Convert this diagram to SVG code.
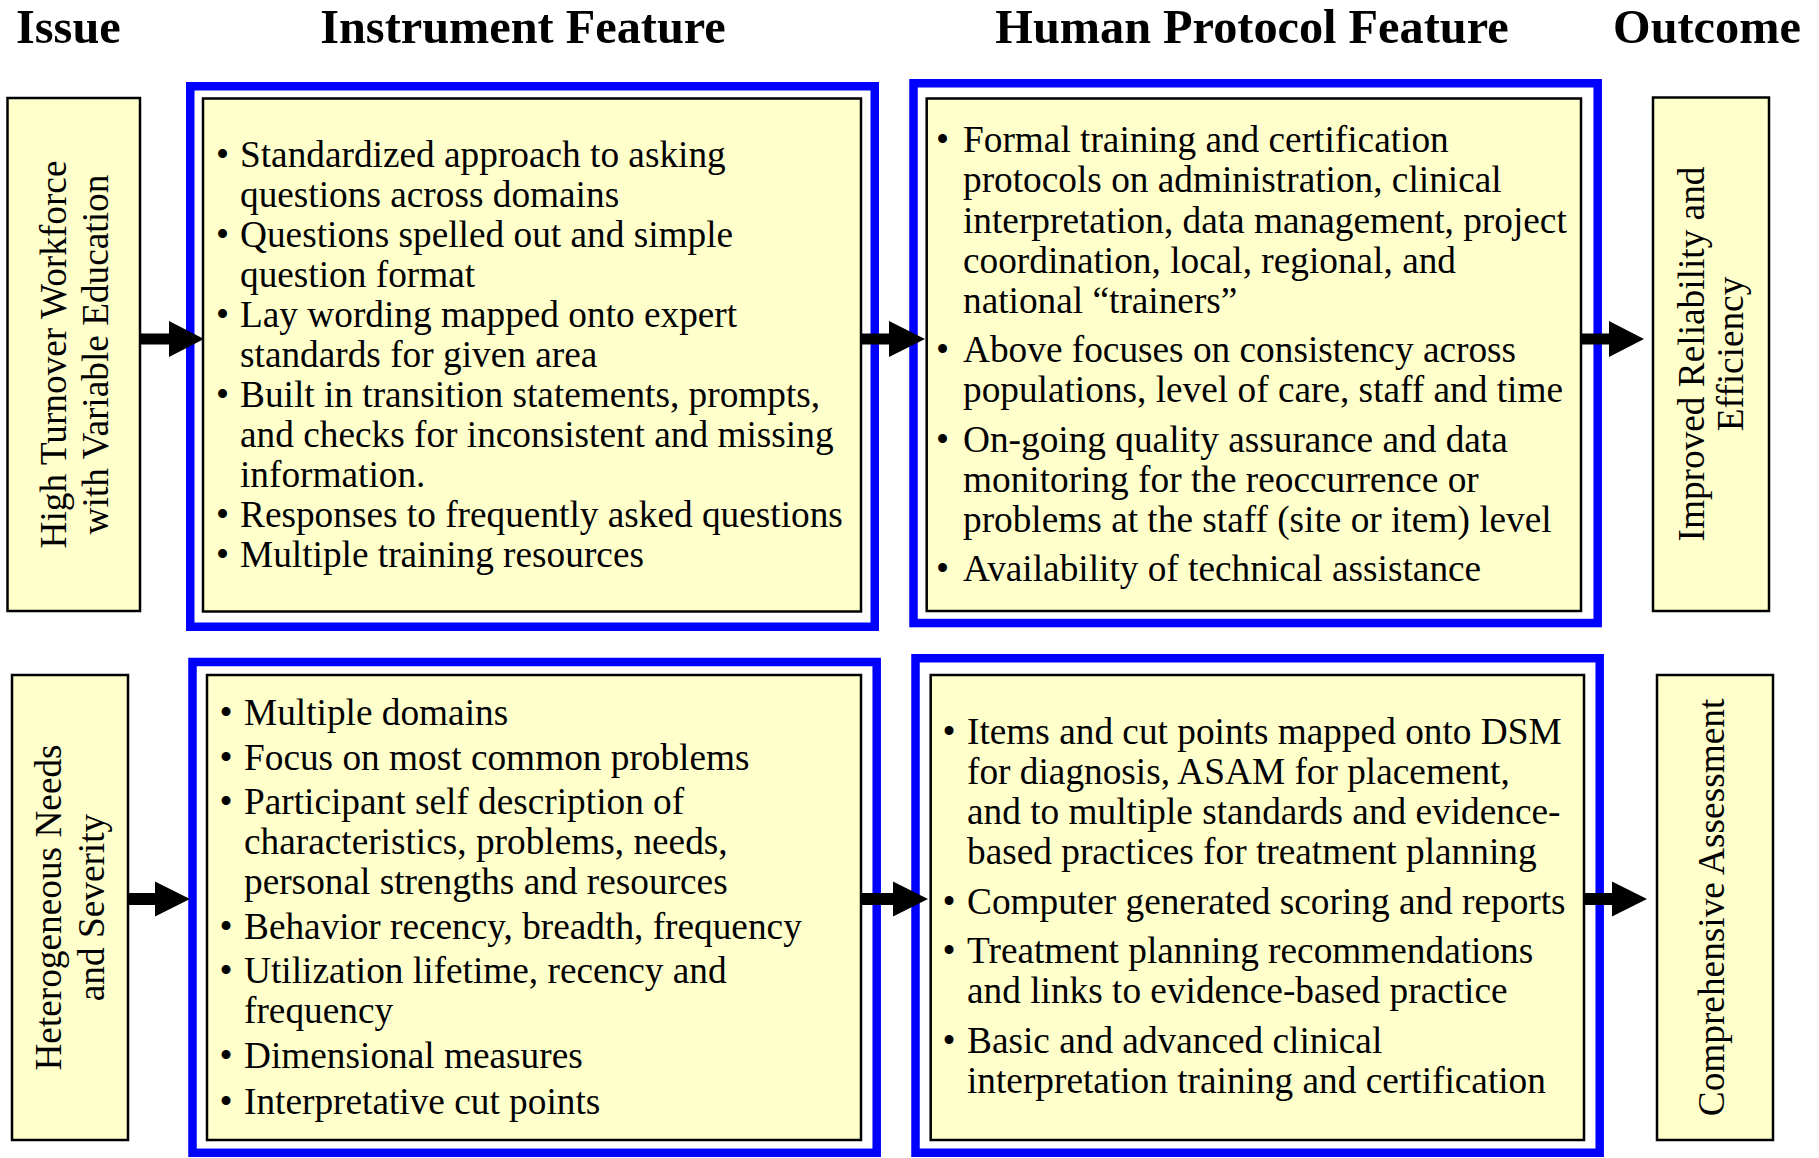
<svg xmlns="http://www.w3.org/2000/svg" width="1819" height="1158" viewBox="0 0 1819 1158">
<style>
.hdr{font-family:"Liberation Serif","Times New Roman",serif;font-weight:bold;font-size:48.3px;fill:#000}
.txt{font-family:"Liberation Serif","Times New Roman",serif;font-size:37.3px;fill:#000}
.box{fill:#FFFFCC;stroke:#000;stroke-width:2.5}
.frame{fill:#FFFFFF;stroke:#0000FF;stroke-width:8.5}
.arrow{fill:#000;stroke:none}
</style>
<rect x="0" y="0" width="1819" height="1158" fill="#FFFFFF"/>
<g id="headers">
<text class="hdr" x="16" y="43">Issue</text>
<text class="hdr" x="523" y="43" text-anchor="middle">Instrument Feature</text>
<text class="hdr" x="1252" y="43" text-anchor="middle">Human Protocol Feature</text>
<text class="hdr" x="1707" y="43" text-anchor="middle">Outcome</text>
</g>
<g id="issue-turnover">
<rect class="box" x="7.5" y="98" width="132.5" height="513"/>
<text class="txt" transform="translate(66,354.5) rotate(-90)" text-anchor="middle">High Turnover Workforce</text>
<text class="txt" transform="translate(108,354.5) rotate(-90)" text-anchor="middle">with Variable Education</text>
</g>
<g id="instrument-top">
<rect class="frame" x="190.25" y="86.25" width="684.5" height="540.5"/>
<rect class="box" x="203" y="98.5" width="658" height="513"/>
<text class="txt">
<tspan x="216" y="167">•</tspan><tspan x="240" y="167">Standardized approach to asking</tspan>
<tspan x="240" y="207">questions across domains</tspan>
<tspan x="216" y="247">•</tspan><tspan x="240" y="247">Questions spelled out and simple</tspan>
<tspan x="240" y="287">question format</tspan>
<tspan x="216" y="327">•</tspan><tspan x="240" y="327">Lay wording mapped onto expert</tspan>
<tspan x="240" y="367">standards for given area</tspan>
<tspan x="216" y="407">•</tspan><tspan x="240" y="407">Built in transition statements, prompts,</tspan>
<tspan x="240" y="447">and checks for inconsistent and missing</tspan>
<tspan x="240" y="487">information.</tspan>
<tspan x="216" y="527">•</tspan><tspan x="240" y="527">Responses to frequently asked questions</tspan>
<tspan x="216" y="567">•</tspan><tspan x="240" y="567">Multiple training resources</tspan>
</text>
</g>
<g id="human-top">
<rect class="frame" x="913.5" y="83.25" width="684.2" height="539.8"/>
<rect class="box" x="926.7" y="98.5" width="654.3" height="512.5"/>
<text class="txt">
<tspan x="936" y="152">•</tspan><tspan x="963" y="152">Formal training and certification</tspan>
<tspan x="963" y="192">protocols on administration, clinical</tspan>
<tspan x="963" y="232.5">interpretation, data management, project</tspan>
<tspan x="963" y="273">coordination, local, regional, and</tspan>
<tspan x="963" y="313">national “trainers”</tspan>
<tspan x="936" y="362">•</tspan><tspan x="963" y="362">Above focuses on consistency across</tspan>
<tspan x="963" y="402">populations, level of care, staff and time</tspan>
<tspan x="936" y="451.5">•</tspan><tspan x="963" y="451.5">On-going quality assurance and data</tspan>
<tspan x="963" y="491.5">monitoring for the reoccurrence or</tspan>
<tspan x="963" y="531.5">problems at the staff (site or item) level</tspan>
<tspan x="936" y="581">•</tspan><tspan x="963" y="581">Availability of technical assistance</tspan>
</text>
</g>
<g id="outcome-reliability">
<rect class="box" x="1653" y="97.5" width="116" height="513.5"/>
<text class="txt" transform="translate(1704,354) rotate(-90)" text-anchor="middle">Improved Reliability and</text>
<text class="txt" transform="translate(1743,354) rotate(-90)" text-anchor="middle">Efficiency</text>
</g>
<g id="issue-heterogeneous">
<rect class="box" x="12" y="675" width="116" height="465"/>
<text class="txt" transform="translate(61,907.5) rotate(-90)" text-anchor="middle">Heterogeneous Needs</text>
<text class="txt" transform="translate(104,907.5) rotate(-90)" text-anchor="middle">and Severity</text>
</g>
<g id="instrument-bottom">
<rect class="frame" x="192.5" y="662" width="684.2" height="490.8"/>
<rect class="box" x="207" y="675" width="654" height="465"/>
<text class="txt">
<tspan x="219.5" y="725">•</tspan><tspan x="244" y="725">Multiple domains</tspan>
<tspan x="219.5" y="769.5">•</tspan><tspan x="244" y="769.5">Focus on most common problems</tspan>
<tspan x="219.5" y="814">•</tspan><tspan x="244" y="814">Participant self description of</tspan>
<tspan x="244" y="854">characteristics, problems, needs,</tspan>
<tspan x="244" y="894">personal strengths and resources</tspan>
<tspan x="219.5" y="938.5">•</tspan><tspan x="244" y="938.5">Behavior recency, breadth, frequency</tspan>
<tspan x="219.5" y="983">•</tspan><tspan x="244" y="983">Utilization lifetime, recency and</tspan>
<tspan x="244" y="1023">frequency</tspan>
<tspan x="219.5" y="1068">•</tspan><tspan x="244" y="1068">Dimensional measures</tspan>
<tspan x="219.5" y="1114">•</tspan><tspan x="244" y="1114">Interpretative cut points</tspan>
</text>
</g>
<g id="human-bottom">
<rect class="frame" x="915.5" y="658.25" width="684.2" height="494.5"/>
<rect class="box" x="930.7" y="675" width="653.3" height="465"/>
<text class="txt">
<tspan x="942.5" y="744">•</tspan><tspan x="967" y="744">Items and cut points mapped onto DSM</tspan>
<tspan x="967" y="784">for diagnosis, ASAM for placement,</tspan>
<tspan x="967" y="824">and to multiple standards and evidence-</tspan>
<tspan x="967" y="864">based practices for treatment planning</tspan>
<tspan x="942.5" y="914">•</tspan><tspan x="967" y="914">Computer generated scoring and reports</tspan>
<tspan x="942.5" y="963">•</tspan><tspan x="967" y="963">Treatment planning recommendations</tspan>
<tspan x="967" y="1003">and links to evidence-based practice</tspan>
<tspan x="942.5" y="1053">•</tspan><tspan x="967" y="1053">Basic and advanced clinical</tspan>
<tspan x="967" y="1093">interpretation training and certification</tspan>
</text>
</g>
<g id="outcome-comprehensive">
<rect class="box" x="1657" y="675" width="116" height="465"/>
<text class="txt" transform="translate(1724,907.5) rotate(-90)" text-anchor="middle">Comprehensive Assessment</text>
</g>
<g id="connectors">
<path class="arrow" d="M140,333.5 L169,333.5 L169,321 L204,339 L169,357 L169,344.5 L140,344.5 Z"/>
<path class="arrow" d="M861,333.5 L889,333.5 L889,321 L925,339 L889,357 L889,344.5 L861,344.5 Z"/>
<path class="arrow" d="M1581,333.5 L1609,333.5 L1609,321 L1644,339 L1609,357 L1609,344.5 L1581,344.5 Z"/>
<path class="arrow" d="M128,893 L155,893 L155,881.5 L190,899 L155,916.5 L155,905 L128,905 Z"/>
<path class="arrow" d="M861,893 L893,893 L893,881.5 L928,899 L893,916.5 L893,905 L861,905 Z"/>
<path class="arrow" d="M1584,893 L1612,893 L1612,881.5 L1647,899 L1612,916.5 L1612,905 L1584,905 Z"/>
</g>
</svg>
